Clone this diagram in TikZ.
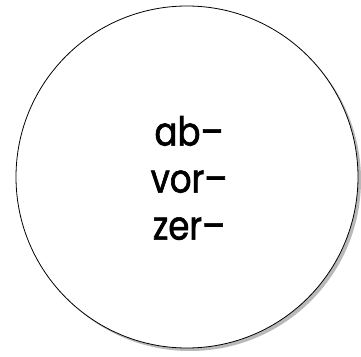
\documentclass[tikz,border=0pt]{standalone}
\usepackage{fontspec}
\setmainfont{Poppins}
\usetikzlibrary{shadows}

\begin{document}
\begin{tikzpicture}[x=1pt,y=1pt]
\useasboundingbox (0,0) rectangle (361,356);

\fill[gray!55] (190,176) circle [radius=171];
\draw[fill=white,line width=0.8pt] (187,179) circle [radius=171];

\node[align=center,font=\fontsize{40}{47}\selectfont\addfontfeature{FakeBold=1.5,FakeStretch=0.85}] (prefixes) at (189,178) {ab–\\vor–\\zer–};
\end{tikzpicture}
\end{document}
